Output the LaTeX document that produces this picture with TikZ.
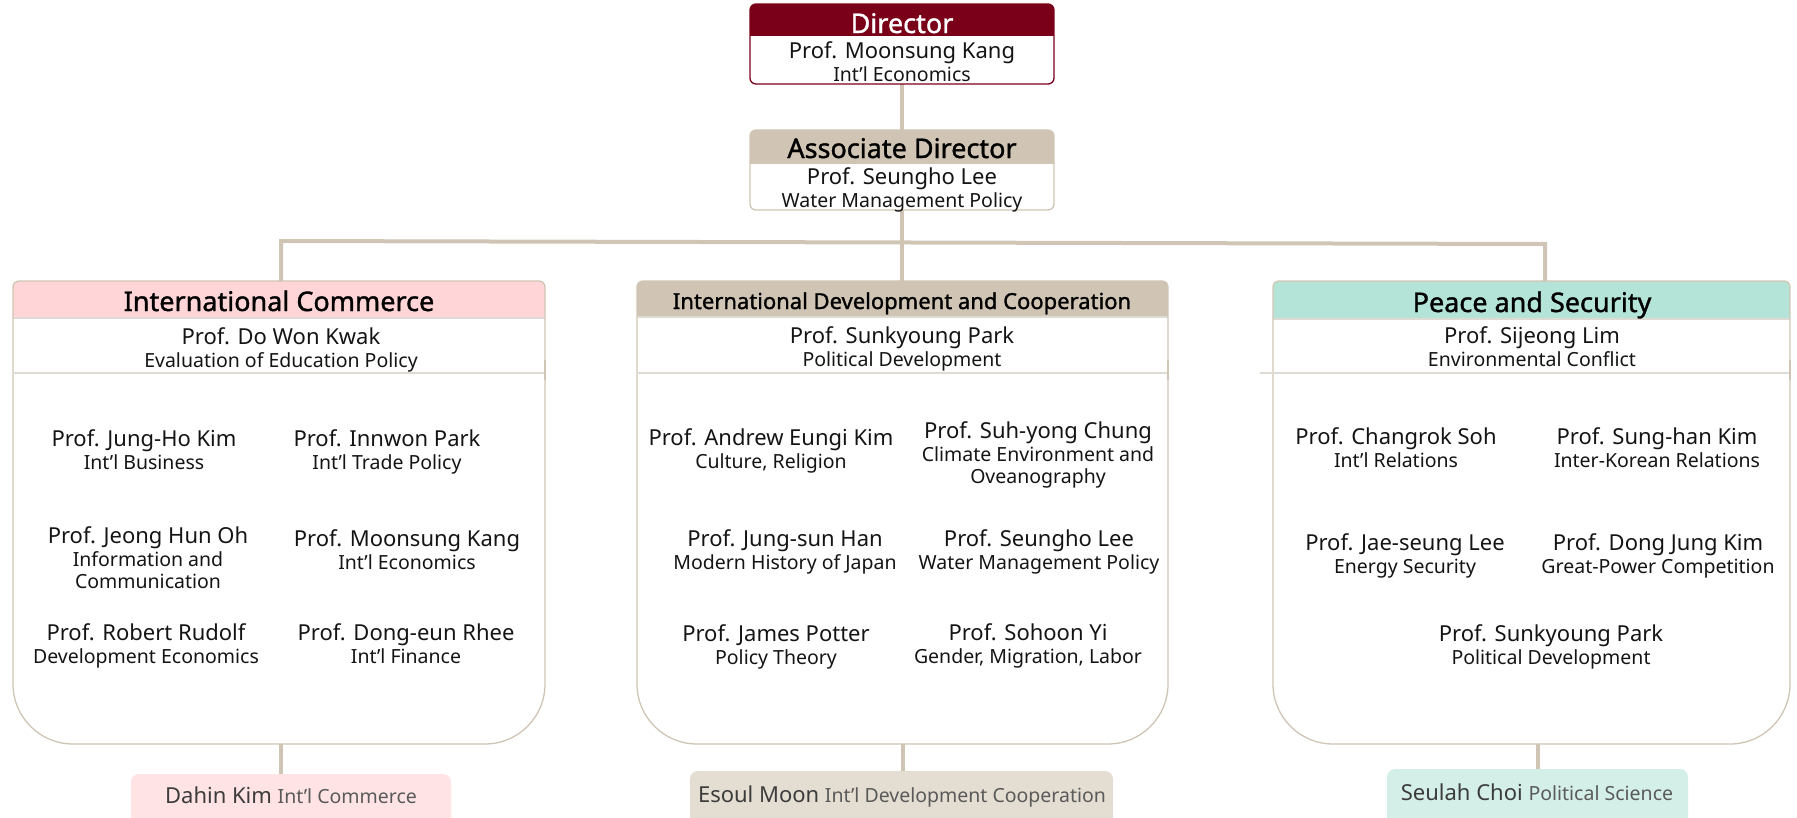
\documentclass[tikz,border=0pt]{standalone}
\usepackage{fontspec}
\setmainfont{Noto Sans}
\newfontfamily\headfont{Noto Sans}[FakeBold=1.3]
\definecolor{cMaroon}{HTML}{7A0019}
\definecolor{cTan}{HTML}{D0C5B4}
\definecolor{cPinkHead}{HTML}{FFD5D8}
\definecolor{cPinkSoft}{HTML}{FFE3E5}
\definecolor{cMintHead}{HTML}{B4E4D7}
\definecolor{cMintSoft}{HTML}{D4EFE7}
\definecolor{cTanSoft}{HTML}{E4DDD2}
\definecolor{cSep}{HTML}{DEDAD4}
\definecolor{cInk}{HTML}{141414}
\definecolor{cSoftInk}{HTML}{3C3C3C}
\definecolor{cSoftInkB}{HTML}{5A5A5A}
\newcommand\nmfont{\fontsize{22}{26}\selectfont}
\newcommand\sjfont{\fontsize{19.5}{22}\selectfont}
\newcommand\lowerbox[4]{%
  \begin{scope}
    \clip (#1,287) arc[start angle=180,end angle=90,radius=6pt] -- ({#2-6},281)
      arc[start angle=90,end angle=0,radius=6pt] -- (#2,684)
      arc[start angle=0,end angle=-90,radius=60pt] -- ({#1+60},744)
      arc[start angle=270,end angle=180,radius=60pt] -- cycle;
    \fill[#3] (#1,281) rectangle (#2,#4);
  \end{scope}
  \draw[sepline] (#1,#4) -- (#2,#4);
  \draw[frame] (#1,287) arc[start angle=180,end angle=90,radius=6pt] -- ({#2-6},281)
      arc[start angle=90,end angle=0,radius=6pt] -- (#2,684)
      arc[start angle=0,end angle=-90,radius=60pt] -- ({#1+60},744)
      arc[start angle=270,end angle=180,radius=60pt] -- cycle;
}
\newcommand\prof[5]{%
  \node[nm] (#1) at (#2,#3) {#4};
  \node[sj] (#1s) at (#2,#3+23) {#5};
}
\newcommand\profthree[6]{%
  \node[nm] (#1) at (#2,#3) {#4};
  \node[sj] (#1s) at (#2,#3+23) {#5};
  \node[sj] (#1t) at (#2,#3+45) {#6};
}
\begin{document}
\begin{tikzpicture}[x=1pt,y=-1pt,
  conn/.style={draw=cTan, line width=4pt},
  frame/.style={draw=cTan, line width=1.3pt},
  sepline/.style={draw=cSep, line width=1.5pt},
  hold/.style={inner sep=0pt, outer sep=0pt, rectangle},
  nm/.style={font=\nmfont, text=cInk, inner sep=0pt, anchor=base},
  sj/.style={font=\sjfont, text=cInk, inner sep=0pt, anchor=base},
  hd/.style={font=\headfont\fontsize{27}{30}\selectfont, inner sep=0pt, anchor=base},
  staffbox/.style={hold, rounded corners=8pt, anchor=north, minimum height=60pt},
  stafftext/.style={font=\nmfont, text=cSoftInk, inner sep=0pt, anchor=base}
]
\useasboundingbox (0,0) rectangle (1797,817);

% ---------- holders (named areas) ----------
\node[hold, minimum width=304, minimum height=80] (dir) at (902,44) {};
\node[hold, minimum width=304, minimum height=80] (assoc) at (902,170) {};
\node[hold, minimum width=532, minimum height=463] (ic) at (279,512.5) {};
\node[hold, minimum width=531, minimum height=463] (idc) at (902.5,512.5) {};
\node[hold, minimum width=517, minimum height=463] (ps) at (1531.5,512.5) {};

% ---------- connectors ----------
\coordinate (jl) at (281,241);
\coordinate (jr) at (1545,244);
\draw[conn] (dir.south) -- (assoc.north);
\draw[conn] (assoc.south) -- (assoc.south |- idc.north);
\draw[conn, line join=miter] (jl |- ic.north) -- (jl) -- (jr) -- (jr |- ps.north);

% ---------- director ----------
\begin{scope}
  \clip[rounded corners=6pt] (750,4) rectangle (1054,84);
  \fill[cMaroon] (750,4) rectangle (1054,36);
\end{scope}
\draw[cMaroon, line width=1.3pt, rounded corners=6pt] (750,4) rectangle (1054,84);
\node[hd, text=white] (dirh) at (902,33) {Director};
\node[nm] (dirn) at (902,58) {Prof. Moonsung Kang};
\node[sj] (dirs) at (902,81) {Int'l Economics};

% ---------- associate director ----------
\begin{scope}
  \clip[rounded corners=6pt] (750,130) rectangle (1054,210);
  \fill[cTan] (750,130) rectangle (1054,164);
\end{scope}
\draw[cTan, line width=1.3pt, rounded corners=6pt] (750,130) rectangle (1054,210);
\node[hd, text=black] (assh) at (902,158) {Associate Director};
\node[nm] (assn) at (902,184) {Prof. Seungho Lee};
\node[sj] (asss) at (902,207) {Water Management Policy};

% ---------- three divisions ----------
\lowerbox{13}{545}{cPinkHead}{318}
\lowerbox{637}{1168}{cTan}{317}
\lowerbox{1273}{1790}{cMintHead}{319}
\draw[sepline] (13,373) -- (545,373);
\draw[sepline] (637,373) -- (1168,373);
\draw[sepline] (1260,373) -- (1790,373);
\draw[frame] (545,360) -- (545,380);
\draw[frame] (1168,360) -- (1168,380);
\draw[frame] (1790,360) -- (1790,380);

\node[hd, text=black] (ich) at (279,311) {International Commerce};
\node[hd, text=black, font=\headfont\fontsize{22}{26}\selectfont] (idch) at (902,309) {International Development and Cooperation};
\node[hd, text=black] (psh) at (1532,312) {Peace and Security};

\prof{icl}{281}{344}{Prof. Do Won Kwak}{Evaluation of Education Policy}
\prof{idcl}{902}{343}{Prof. Sunkyoung Park}{Political Development}
\prof{psl}{1532}{343}{Prof. Sijeong Lim}{Environmental Conflict}

% International Commerce members
\prof{ica}{144}{446}{Prof. Jung-Ho Kim}{Int'l Business}
\prof{icb}{387}{446}{Prof. Innwon Park}{Int'l Trade Policy}
\profthree{icc}{148}{543}{Prof. Jeong Hun Oh}{Information and}{Communication}
\prof{icd}{407}{546}{Prof. Moonsung Kang}{Int'l Economics}
\prof{ice}{146}{640}{Prof. Robert Rudolf}{Development Economics}
\prof{icf}{406}{640}{Prof. Dong-eun Rhee}{Int'l Finance}

% International Development and Cooperation members
\prof{ida}{771}{445}{Prof. Andrew Eungi Kim}{Culture, Religion}
\profthree{idb}{1038}{438}{Prof. Suh-yong Chung}{Climate Environment and}{Oveanography}
\prof{idc1}{785}{546}{Prof. Jung-sun Han}{Modern History of Japan}
\prof{idd}{1039}{546}{Prof. Seungho Lee}{Water Management Policy}
\prof{ide}{776}{641}{Prof. James Potter}{Policy Theory}
\prof{idf}{1028}{640}{Prof. Sohoon Yi}{Gender, Migration, Labor}

% Peace and Security members
\prof{psa}{1396}{444}{Prof. Changrok Soh}{Int'l Relations}
\prof{psb}{1657}{444}{Prof. Sung-han Kim}{Inter-Korean Relations}
\prof{psc}{1405}{550}{Prof. Jae-seung Lee}{Energy Security}
\prof{psd}{1658}{550}{Prof. Dong Jung Kim}{Great-Power Competition}
\prof{pse}{1551}{641}{Prof. Sunkyoung Park}{Political Development}

% ---------- staff boxes ----------
\node[staffbox, fill=cPinkSoft, minimum width=320] (ics) at (291,774) {};
\node[staffbox, fill=cTanSoft, minimum width=423] (idcs) at (901.5,771) {};
\node[staffbox, fill=cMintSoft, minimum width=301] (pss) at (1537.5,769) {};
\draw[conn] (jl |- ic.south) -- (jl |- ics.north);
\draw[conn] (idc.south) -- (idc.south |- idcs.north);
\draw[conn] (pss.north |- ps.south) -- (pss.north);

\node[stafftext] (icst) at (291,803) {Dahin Kim {\sjfont\color{cSoftInkB}Int'l Commerce}};
\node[stafftext] (idcst) at (902,802) {Esoul Moon {\sjfont\color{cSoftInkB}Int'l Development Cooperation}};
\node[stafftext] (psst) at (1537,800) {Seulah Choi {\sjfont\color{cSoftInkB}Political Science}};
\end{tikzpicture}
\end{document}
